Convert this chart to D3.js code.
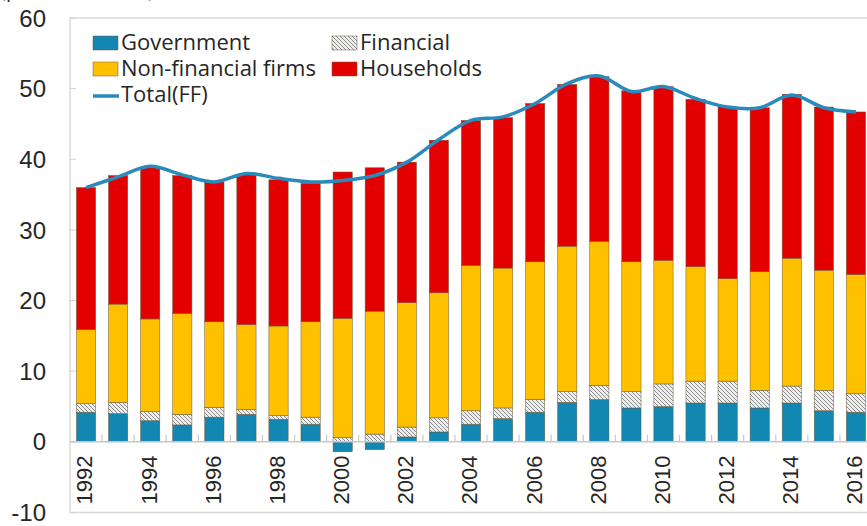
<!DOCTYPE html>
<html>
<head>
<meta charset="utf-8">
<script src="https://cdn.jsdelivr.net/npm/d3@7"></script>
<style>
  body { margin: 0; background: #fff; }
  svg { display: block; }
</style>
</head>
<body>
<svg id="chart" width="867" height="526"></svg>
<script>
// values in % of GDP
const years = d3.range(1992, 2017);
const government = [4.2, 4.0, 3.0, 2.4, 3.5, 3.9, 3.2, 2.5, -1.4, -1.1, 0.7, 1.4, 2.5, 3.3, 4.2, 5.6, 6.0, 4.8, 5.0, 5.5, 5.5, 4.8, 5.5, 4.4, 4.2];
const financial = [1.2, 1.6, 1.3, 1.5, 1.4, 0.7, 0.5, 1.0, 0.6, 1.1, 1.4, 2.0, 1.9, 1.5, 1.8, 1.5, 2.0, 2.3, 3.2, 3.1, 3.1, 2.5, 2.4, 2.9, 2.6];
const nonFinancial = [10.5, 13.9, 13.1, 14.3, 12.1, 12.0, 12.7, 13.5, 16.9, 17.4, 17.6, 17.7, 20.6, 19.8, 19.5, 20.6, 20.4, 18.4, 17.5, 16.2, 14.5, 16.8, 18.1, 17.0, 16.9];
const households = [20.1, 18.2, 21.4, 19.5, 19.8, 21.2, 20.7, 19.6, 20.7, 20.3, 19.9, 21.6, 20.5, 21.3, 22.4, 22.9, 23.3, 24.2, 24.6, 23.7, 24.3, 23.2, 23.2, 23.1, 23.0];
const totalFF = [36.0, 37.5, 39.0, 37.8, 36.8, 38.0, 37.3, 36.8, 37.0, 37.7, 39.6, 42.8, 45.5, 46.0, 47.9, 50.7, 51.8, 49.6, 50.3, 48.6, 47.4, 47.3, 49.1, 47.3, 46.7];
const yTicks = [-10, 0, 10, 20, 30, 40, 50, 60];

const keys = ["Government", "Financial", "Non-financial firms", "Households"];
const rows = years.map((yr, i) => ({
  year: yr,
  "Government": government[i],
  "Financial": financial[i],
  "Non-financial firms": nonFinancial[i],
  "Households": households[i]
}));

const svg = d3.select("#chart");
const plotLeft = 70, plotRight = 872, plotTop = 18, plotBottom = 512.5;

const x = d3.scaleBand()
  .domain(years)
  .range([plotLeft, plotRight])
  .paddingInner(0.4)
  .paddingOuter(0.2);

const y = d3.scaleLinear()
  .domain([-10, 60])
  .range([plotBottom, plotTop]);

// hatched fill for Financial
const defs = svg.append("defs");
const pat = defs.append("pattern")
  .attr("id", "hatch")
  .attr("patternUnits", "userSpaceOnUse")
  .attr("width", 4)
  .attr("height", 4);
pat.append("rect").attr("width", 4).attr("height", 4).attr("fill", "#eeeeee");
pat.append("path")
  .attr("d", "M-1,-1 L5,5 M-1,3 L1,5 M3,-1 L5,1")
  .attr("stroke", "#8c8c8c")
  .attr("stroke-width", 1);

const color = d3.scaleOrdinal()
  .domain(keys)
  .range(["#1287b2", "url(#hatch)", "#ffc000", "#e30000"]);

// frame
svg.append("path")
  .attr("d", `M${plotLeft},${plotBottom} L${plotLeft},${plotTop} L${plotRight},${plotTop} M${plotLeft},${plotBottom} L${plotRight},${plotBottom}`)
  .attr("fill", "none")
  .attr("stroke", "#d9d9d9")
  .attr("stroke-width", 1.5);

// y ticks and labels
svg.append("g")
  .selectAll("line")
  .data(yTicks)
  .join("line")
  .attr("x1", plotLeft)
  .attr("x2", plotLeft + 6)
  .attr("y1", d => y(d))
  .attr("y2", d => y(d))
  .attr("stroke", "#d0d0d0");

svg.append("g")
  .selectAll("text")
  .data(yTicks)
  .join("text")
  .attr("x", 46)
  .attr("y", d => y(d))
  .attr("dy", "0.36em")
  .attr("text-anchor", "end")
  .style("font-family", "Liberation Sans, Arial, sans-serif")
  .style("font-size", "24px")
  .style("fill", "#262626")
  .text(d => d);

// unit label, cut off at the top edge as in the original
svg.append("text")
  .attr("x", 0)
  .attr("y", -3)
  .style("font-family", "Open Sans, sans-serif")
  .style("font-size", "20px")
  .style("fill", "#262626")
  .text("(percent of GDP)");

// bars
const series = d3.stack()
  .keys(keys)
  .offset(d3.stackOffsetDiverging)(rows);

svg.append("g")
  .selectAll("g")
  .data(series)
  .join("g")
  .attr("fill", d => color(d.key))
  .selectAll("rect")
  .data(d => d)
  .join("rect")
  .attr("x", d => x(d.data.year))
  .attr("y", d => y(Math.max(d[0], d[1])))
  .attr("width", x.bandwidth())
  .attr("height", d => Math.abs(y(d[0]) - y(d[1])))
  .attr("stroke", "#6b5a3a")
  .attr("stroke-width", 0.5);

// zero line and category ticks
svg.append("line")
  .attr("x1", plotLeft)
  .attr("x2", plotRight)
  .attr("y1", y(0))
  .attr("y2", y(0))
  .attr("stroke", "#c8c8c8")
  .attr("stroke-width", 1.5);

svg.append("g")
  .selectAll("line")
  .data(years.slice(1))
  .join("line")
  .attr("x1", d => x(d) - x.step() * x.paddingInner() / 2)
  .attr("x2", d => x(d) - x.step() * x.paddingInner() / 2)
  .attr("y1", y(0))
  .attr("y2", y(0) - 7)
  .attr("stroke", "#c8c8c8")
  .attr("stroke-width", 1.2);

// x labels, every other year
svg.append("g")
  .selectAll("text")
  .data(years.filter(d => d % 2 === 0))
  .join("text")
  .attr("transform", d => `translate(${x(d) + x.bandwidth() / 2 - 1.5},480) rotate(-90)`)
  .attr("dy", "0.36em")
  .attr("text-anchor", "middle")
  .style("font-family", "Liberation Sans, Arial, sans-serif")
  .style("font-size", "22px")
  .style("fill", "#262626")
  .text(d => d);

// total line
const line = d3.line()
  .x((d, i) => x(years[i]) + x.bandwidth() / 2)
  .y(d => y(d))
  .curve(d3.curveCatmullRom.alpha(0.5));

svg.append("path")
  .datum(totalFF)
  .attr("d", line)
  .attr("fill", "none")
  .attr("stroke", "#2a8abb")
  .attr("stroke-width", 3.5);

// legend
const legend = svg.append("g").style("font-family", "Open Sans, sans-serif").style("font-size", "22px").style("fill", "#262626");
const legendItems = [
  { key: "Government", x: 93, y: 50 },
  { key: "Financial", x: 332, y: 50 },
  { key: "Non-financial firms", x: 93, y: 76 },
  { key: "Households", x: 332, y: 76 }
];
legendItems.forEach(it => {
  legend.append("rect")
    .attr("x", it.x)
    .attr("y", it.y - 14)
    .attr("width", 25)
    .attr("height", 14)
    .attr("fill", color(it.key))
    .attr("stroke", "#6b5a3a")
    .attr("stroke-width", 0.5);
  legend.append("text")
    .attr("x", it.x + 28)
    .attr("y", it.y)
    .text(it.key);
});
legend.append("line")
  .attr("x1", 93)
  .attr("x2", 119)
  .attr("y1", 96)
  .attr("y2", 96)
  .attr("stroke", "#2a8abb")
  .attr("stroke-width", 3.5);
legend.append("text")
  .attr("x", 121)
  .attr("y", 102)
  .text("Total(FF)");
</script>
</body>
</html>
